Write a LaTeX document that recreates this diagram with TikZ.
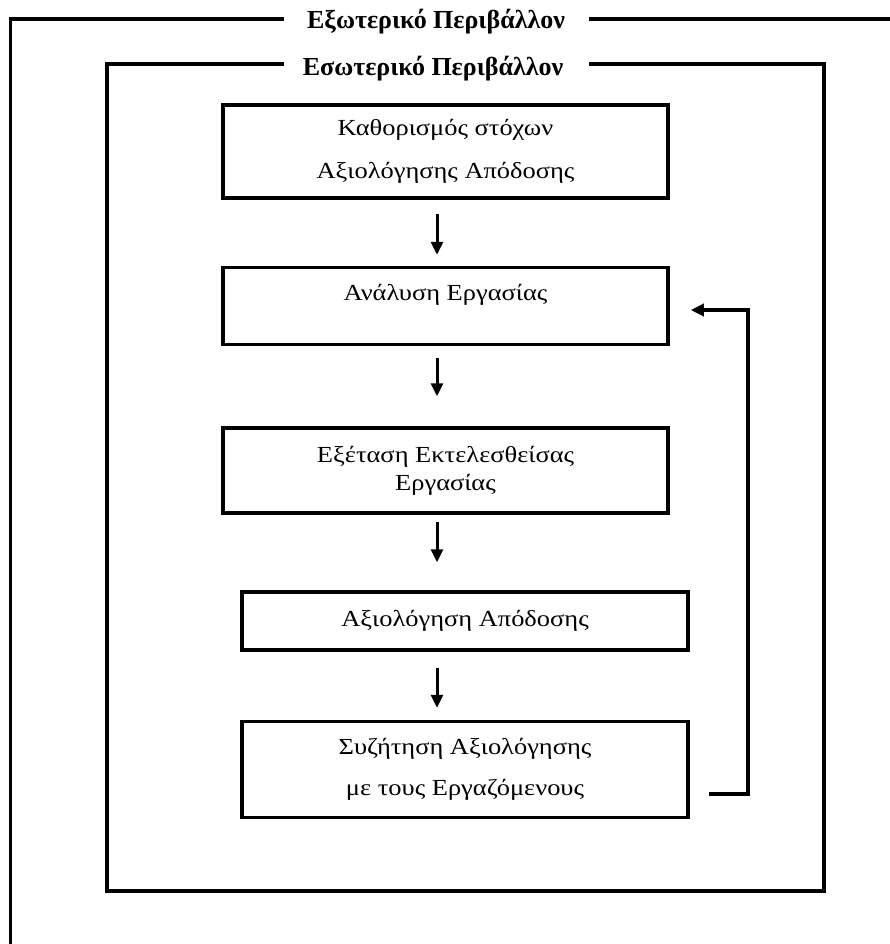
\documentclass[tikz,border=0pt]{standalone}
\usepackage{fontspec}
\setmainfont{Liberation Serif}
\newfontfamily\boxfont[FakeStretch=1.15]{Liberation Serif}
\usetikzlibrary{arrows.meta,calc}

\tikzset{
  frameline/.style={line width=3.5pt, line cap=rect, line join=miter},
  stagebox/.style={draw, line width=3.5pt, rectangle, align=center, inner sep=0pt,
    font=\boxfont\fontsize{23}{28}\selectfont},
  flow/.style={line width=3pt, -{Triangle[length=13pt,width=12pt]}},
  backflow/.style={line width=3.5pt, -{Triangle[length=13pt,width=12pt]}},
  envtitle/.style={anchor=base, inner sep=0pt, font=\bfseries\fontsize{26}{30}\selectfont}
}

\begin{document}
\begin{tikzpicture}[x=1pt,y=-1pt]
  \useasboundingbox[fill=white] (0,0) rectangle (889,944);

  % outer environment frame
  \node[envtitle] (outer) at (436,29) {Εξωτερικό Περιβάλλον};
  \draw[frameline] (282,19) -- (10.5,19) -- (10.5,950);
  \draw[frameline] (591,19) -- (895,19);

  % inner environment frame
  \node[envtitle] (inner) at (433,76) {Εσωτερικό Περιβάλλον};
  \draw[frameline] (282,64) -- (107,64) -- (107,891) -- (824,891) -- (824,64) -- (591,64);

  % process stages
  \node[stagebox, minimum width=445pt, minimum height=93pt] (b1) at (445.5,151.5)
    {\raisebox{-3pt}{Καθορισμός στόχων}\\[15pt] \raisebox{-3pt}{Αξιολόγησης Απόδοσης}};
  \node[stagebox, minimum width=445pt, minimum height=77pt] (b2) at (445.5,306)
    {Ανάλυση Εργασίας\\ \mbox{}};
  \node[stagebox, minimum width=445pt, minimum height=85pt] (b3) at (445.5,470.5)
    {Εξέταση Εκτελεσθείσας\\ Εργασίας};
  \node[stagebox, minimum width=446pt, minimum height=58pt] (b4) at (465,621)
    {Αξιολόγηση Απόδοσης};
  \node[stagebox, minimum width=446pt, minimum height=96pt] (b5) at (465,769.5)
    {Συζήτηση Αξιολόγησης\\[13pt] με τους Εργαζόμενους};

  % downward flow
  \draw[flow] ([xshift=-8.5pt,yshift=-14pt]b1.south) -- ([xshift=-8.5pt,yshift=11pt]b2.north);
  \draw[flow] ([xshift=-8.5pt,yshift=-12pt]b2.south) -- ([xshift=-8.5pt,yshift=30pt]b3.north);
  \draw[flow] ([xshift=-8.5pt,yshift=-7pt]b3.south) -- ([xshift=-28pt,yshift=28pt]b4.north);
  \draw[flow] ([xshift=-28pt,yshift=-16pt]b4.south) -- ([xshift=-28pt,yshift=12pt]b5.north);

  % feedback from the discussion back to job analysis
  \coordinate (fbstart) at ([xshift=19pt,yshift=-24.5pt]b5.east);
  \coordinate (fbend) at ([xshift=21pt,yshift=-4pt]b2.east);
  \draw[backflow] (fbstart) -- ++(39,0) |- (fbend);
\end{tikzpicture}
\end{document}
